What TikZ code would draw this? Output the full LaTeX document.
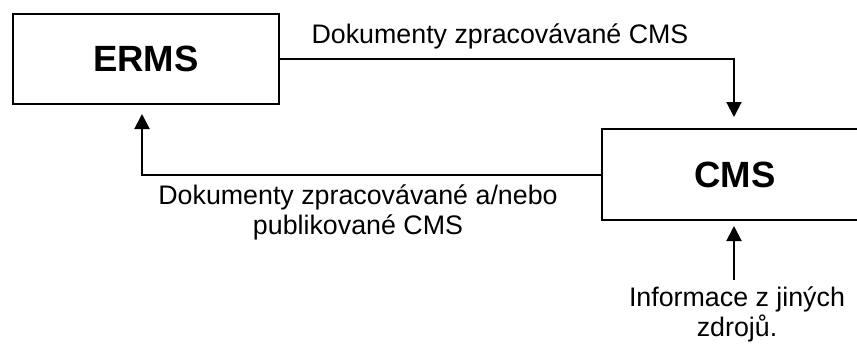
\documentclass[tikz,border=0pt]{standalone}
\usepackage{fontspec}
\setmainfont{Liberation Sans}
\usetikzlibrary{arrows.meta}
\tikzset{
  sysbox/.style={draw=black, line width=2pt, minimum width=266pt, minimum height=90pt, inner sep=0pt,
    font=\bfseries\fontsize{36.5}{40}\selectfont},
  conn/.style={draw=black, line width=2pt},
  arr/.style={conn, -{Triangle[width=15pt,length=15pt]}},
  lbl/.style={inner sep=0pt, anchor=base, align=center, font=\fontsize{26.8}{30}\selectfont}
}
\begin{document}
\begin{tikzpicture}[x=1pt,y=-1pt]
\useasboundingbox (0,0) rectangle (857,343);
\clip (0,0) rectangle (857,343);
\node[sysbox] (erms) at (146,59) {ERMS};
\node[sysbox, minimum height=91pt] (cms) at (735,174.5) {CMS};
\coordinate (src) at (734,280);
\draw[arr] (erms.east) -| ([xshift=-1pt,yshift=11pt]cms.north);
\draw[arr] (cms.west) -| ([xshift=-4pt,yshift=-9pt]erms.south);
\draw[arr] (src) -- ([xshift=-1pt,yshift=-5pt]cms.south);
\node[lbl] (l1) at (500,43) {Dokumenty zpracovávané CMS};
\node[lbl] (l2) at (358,234) {Dokumenty zpracovávané a/nebo\\publikované CMS};
\node[lbl] (l3) at (737,336) {Informace z jiných\\zdrojů.};
\end{tikzpicture}
\end{document}
